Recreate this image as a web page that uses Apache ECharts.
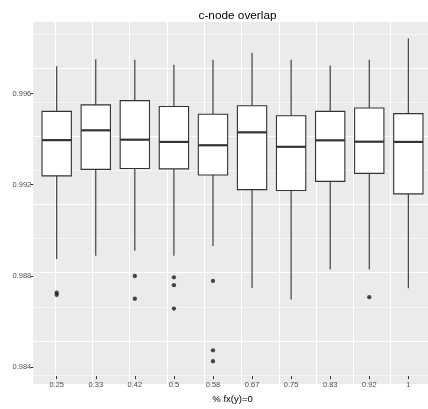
<!DOCTYPE html>
<html>
<head>
<meta charset="utf-8">
<script src="https://cdn.jsdelivr.net/npm/echarts@6/dist/echarts.min.js"></script>
<style>
html,body{margin:0;padding:0;background:#fff;}
#c{width:428px;height:409px;}
</style>
</head>
<body>
<div id="c"></div>
<script>
// ---- data ----
const categories = ['0.25','0.33','0.42','0.5','0.58','0.67','0.75','0.83','0.92','1'];
const whiskerLow  = [0.98851,0.98866,0.98888,0.98866,0.98910,0.98721,0.98670,0.98804,0.98804,0.98720];
const q1          = [0.99224,0.99253,0.99257,0.99255,0.99228,0.99162,0.99158,0.99199,0.99235,0.99143];
const median      = [0.99384,0.99428,0.99386,0.99376,0.99361,0.99419,0.99354,0.99383,0.99377,0.99376];
const q3          = [0.99513,0.99542,0.99561,0.99535,0.99500,0.99538,0.99493,0.99513,0.99528,0.99503];
const whiskerHigh = [0.99715,0.99747,0.99744,0.99722,0.99744,0.99776,0.99744,0.99718,0.99744,0.99839];
const outlierCat  = ['0.25','0.25','0.42','0.42','0.5','0.5','0.5','0.58','0.58','0.58','0.92'];
const outlierVal  = [0.98700,0.98690,0.98775,0.98673,0.98769,0.98734,0.98629,0.98753,0.98442,0.98393,0.98680];
const yTicks = [0.984, 0.988, 0.992, 0.996];
const title = 'c-node overlap';
const xName = '% fx(y)=0';

// ---- layout (pixels) ----
const Y0 = 230.35, PXU = 22808, V0 = 0.990;   // value 0.990 at y=230.35, px per unit
const yOf = v => Y0 - (v - V0) * PXU;
const panelTop = 22, panelBottom = 384;
const band = 39.07, c0 = 56.7;
const panelLeft = c0 - 0.6 * band, panelRight = c0 + 9.6 * band;
const W = 428, H = 409;
const font = "'Liberation Sans', Arial, Helvetica, sans-serif";

const gridMin = 0.980, gridMax = 1.004;

const chart = echarts.init(document.getElementById('c'), null, {renderer:'canvas'});
const boxData = categories.map((c, i) => [i, whiskerLow[i], q1[i], median[i], q3[i], whiskerHigh[i]]);
const outData = outlierCat.map((c, i) => [categories.indexOf(c), outlierVal[i]]);

chart.setOption({
  backgroundColor: '#fff',
  animation: false,
  title: {
    text: title, left: (panelLeft + panelRight) / 2, top: 5, textAlign: 'center',
    textStyle: {fontFamily: font, fontSize: 11.8, fontWeight: 'normal', color: '#000'}
  },
  graphic: [{
    type: 'rect', z: -10, silent: true,
    shape: {x: panelLeft, y: panelTop, width: panelRight - panelLeft, height: panelBottom - panelTop},
    style: {fill: '#EBEBEB'}
  }],
  grid: [
    // 0: data grid (category bands)
    {left: c0 - band / 2, width: band * 10, top: panelTop, height: panelBottom - panelTop},
    // 1: horizontal grid lines (extended vertically, lines beyond panel are white on white)
    {left: panelLeft, width: panelRight - panelLeft, top: yOf(gridMax), height: yOf(gridMin) - yOf(gridMax)},
    // 2: vertical grid lines
    {left: c0 - band, width: band * 11, top: panelTop, height: panelBottom - panelTop},
    // 3: y tick labels
    {left: panelLeft, width: panelRight - panelLeft, top: yOf(yTicks[yTicks.length-1]), height: yOf(yTicks[0]) - yOf(yTicks[yTicks.length-1])}
  ],
  xAxis: [
    {gridIndex: 0, type: 'category', data: categories, boundaryGap: true,
     name: xName, nameLocation: 'middle', nameGap: 14,
     nameTextStyle: {fontFamily: font, fontSize: 9.5, color: '#000'},
     axisLine: {show: false},
     axisTick: {show: true, alignWithLabel: true, length: 3, lineStyle: {color: '#333', width: 1}},
     axisLabel: {fontFamily: font, fontSize: 7.5, color: '#4D4D4D', margin: 5},
     splitLine: {show: false}},
    {gridIndex: 1, type: 'value', show: false, min: 0, max: 1},
    {gridIndex: 2, type: 'value', min: 0, max: 11, interval: 1,
     axisLine: {show: false}, axisTick: {show: false}, axisLabel: {show: false},
     splitLine: {show: true, showMinLine: false, showMaxLine: false, lineStyle: {color: '#fff', width: 1.1}}},
    {gridIndex: 3, type: 'value', show: false, min: 0, max: 1}
  ],
  yAxis: [
    {gridIndex: 0, type: 'value', show: false, min: V0 + (Y0 - panelBottom) / PXU, max: V0 + (Y0 - panelTop) / PXU},
    {gridIndex: 1, type: 'value', min: gridMin, max: gridMax, interval: 0.004,
     axisLine: {show: false}, axisTick: {show: false}, axisLabel: {show: false},
     splitLine: {show: true, lineStyle: {color: '#fff', width: 1.1}},
     minorTick: {show: false, splitNumber: 2},
     minorSplitLine: {show: true, lineStyle: {color: '#fff', width: 0.55}}},
    {gridIndex: 2, type: 'value', show: false, min: 0, max: 1},
    {gridIndex: 3, type: 'value', min: yTicks[0], max: yTicks[yTicks.length-1], interval: 0.004,
     axisLine: {show: false},
     axisTick: {show: true, length: 3, lineStyle: {color: '#333', width: 1}},
     axisLabel: {fontFamily: font, fontSize: 7.5, color: '#4D4D4D', margin: 2, formatter: v => v.toFixed(3)},
     splitLine: {show: false}}
  ],
  series: [
    {
      type: 'custom', xAxisIndex: 0, yAxisIndex: 0, z: 5,
      data: boxData,
      encode: {x: 0, y: [1, 2, 3, 4, 5]},
      renderItem: function (params, api) {
        const i = api.value(0);
        const lo = api.coord([i, api.value(1)]);
        const b1 = api.coord([i, api.value(2)]);
        const md = api.coord([i, api.value(3)]);
        const b3 = api.coord([i, api.value(4)]);
        const hi = api.coord([i, api.value(5)]);
        const w = api.size([1, 0])[0] * 0.75;
        const x = lo[0];
        const stroke = '#333333';
        return {type: 'group', children: [
          {type: 'line', shape: {x1: x, y1: hi[1], x2: x, y2: b3[1]}, style: {stroke: stroke, lineWidth: 1.1}},
          {type: 'line', shape: {x1: x, y1: b1[1], x2: x, y2: lo[1]}, style: {stroke: stroke, lineWidth: 1.1}},
          {type: 'rect', shape: {x: x - w / 2, y: b3[1], width: w, height: b1[1] - b3[1]},
           style: {fill: '#fff', stroke: stroke, lineWidth: 1.1}},
          {type: 'line', shape: {x1: x - w / 2, y1: md[1], x2: x + w / 2, y2: md[1]}, style: {stroke: stroke, lineWidth: 2.2}}
        ]};
      }
    },
    {
      type: 'scatter', xAxisIndex: 0, yAxisIndex: 0, z: 6,
      data: outData, symbol: 'circle', symbolSize: 4.3,
      itemStyle: {color: '#1a1a1a'}, silent: true
    }
  ]
});
</script>
</body>
</html>
